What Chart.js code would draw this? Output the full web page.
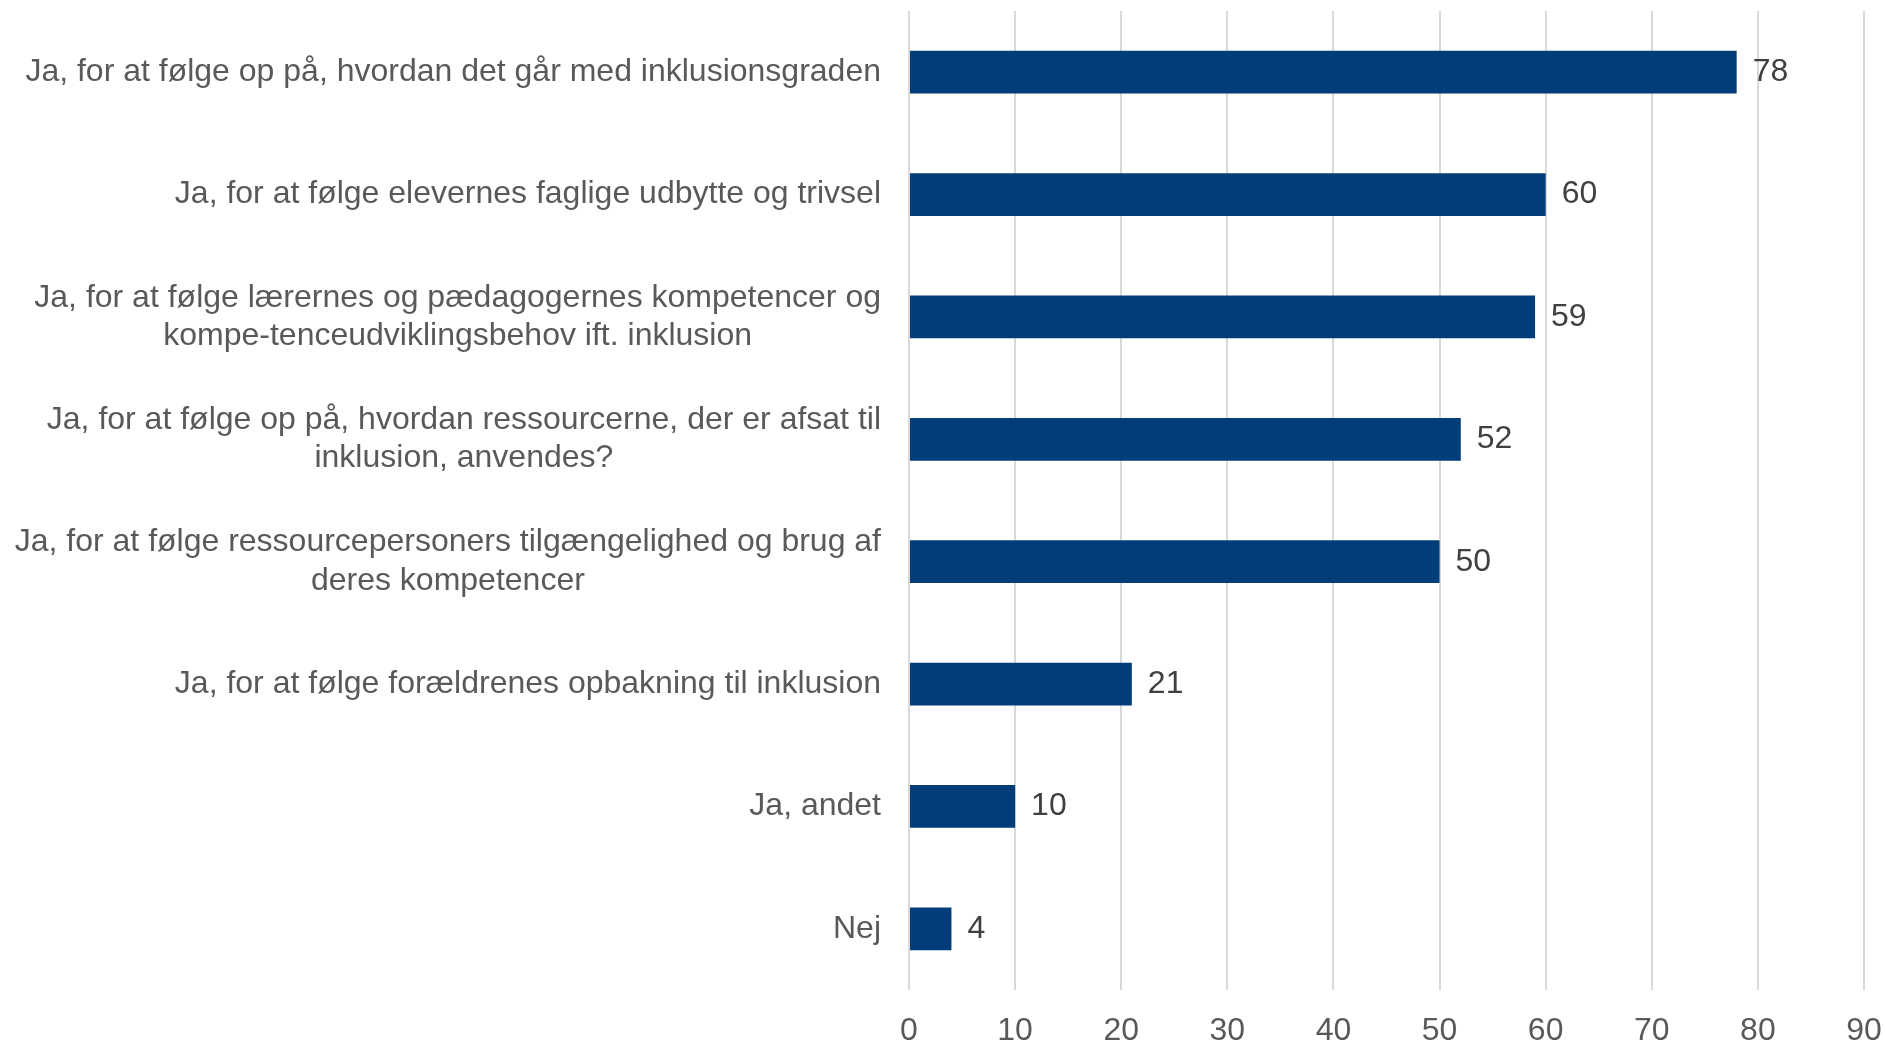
<!DOCTYPE html>
<html>
<head>
<meta charset="utf-8">
<title>Inklusion</title>
<script src="https://cdn.jsdelivr.net/npm/chart.js@4"></script>
<style>
    html, body { margin: 0; padding: 0; background: #fff; }
    #wrap { width: 1885px; height: 1043px; }
</style>
</head>
<body>
<div id="wrap"><canvas id="inclusionChart" width="1885" height="1043"></canvas></div>
<script>
// ----- DATA -----
const categories = [
    'Ja, for at følge op på, hvordan det går med inklusionsgraden',
    'Ja, for at følge elevernes faglige udbytte og trivsel',
    ['Ja, for at følge lærernes og pædagogernes kompetencer og', 'kompe-tenceudviklingsbehov ift. inklusion'],
    ['Ja, for at følge op på, hvordan ressourcerne, der er afsat til', 'inklusion, anvendes?'],
    ['Ja, for at følge ressourcepersoners tilgængelighed og brug af', 'deres kompetencer'],
    'Ja, for at følge forældrenes opbakning til inklusion',
    'Ja, andet',
    'Nej'
];
const values = [78, 60, 59, 52, 50, 21, 10, 4];
const xTicks = [0, 10, 20, 30, 40, 50, 60, 70, 80, 90];

const FONT = '"Liberation Sans", Arial, sans-serif';
const BAR_COLOR = '#003d79';

// ----- PLUGINS -----
// category labels: block right-aligned to the axis, lines centered inside the block
const categoryLabels = {
    id: 'categoryLabels',
    afterDraw(chart) {
        const ctx = chart.ctx;
        const yScale = chart.scales.y;
        const right = chart.chartArea.left - 28;
        const lineH = 38.5;
        ctx.save();
        ctx.font = '32px ' + FONT;
        ctx.fillStyle = '#595959';
        ctx.textAlign = 'center';
        ctx.textBaseline = 'middle';
        categories.forEach((label, i) => {
            const lines = Array.isArray(label) ? label : [label];
            const blockW = Math.max(...lines.map(l => ctx.measureText(l).width));
            const cx = right - blockW / 2;
            const cy = yScale.getPixelForValue(i);
            lines.forEach((l, j) => {
                ctx.fillText(l, cx, cy + (j - (lines.length - 1) / 2) * lineH);
            });
        });
        ctx.restore();
    }
};

// value labels at the end of each bar
const valueLabels = {
    id: 'valueLabels',
    afterDatasetsDraw(chart) {
        const ctx = chart.ctx;
        const meta = chart.getDatasetMeta(0);
        ctx.save();
        ctx.font = '32px ' + FONT;
        ctx.fillStyle = '#404040';
        ctx.textAlign = 'left';
        ctx.textBaseline = 'middle';
        meta.data.forEach((bar, i) => {
            ctx.fillText(values[i], bar.x + 16, bar.y);
        });
        ctx.restore();
    }
};

// ----- CHART -----
function initChart() {
    const ctx = document.getElementById('inclusionChart').getContext('2d');
    new Chart(ctx, {
        type: 'bar',
        data: {
            labels: categories,
            datasets: [{
                data: values,
                backgroundColor: BAR_COLOR,
                barPercentage: 0.35,
                categoryPercentage: 1
            }]
        },
        options: {
            indexAxis: 'y',
            responsive: false,
            animation: false,
            devicePixelRatio: 1,
            layout: { padding: { top: 11, right: 0, bottom: 0, left: 0 } },
            plugins: {
                legend: { display: false },
                tooltip: { enabled: false }
            },
            scales: {
                x: {
                    min: 0,
                    max: 90,
                    afterBuildTicks: (scale) => { scale.ticks = xTicks.map(v => ({ value: v })); },
                    afterFit: (scale) => {
                        scale.height = 53;
                        scale.paddingLeft = 0;
                        scale.paddingRight = 21;
                    },
                    grid: { color: '#d9d9d9', lineWidth: 2, drawTicks: false },
                    border: { display: false },
                    ticks: {
                        padding: 22,
                        color: '#595959',
                        font: { family: FONT, size: 32 }
                    }
                },
                y: {
                    grid: { display: false },
                    border: { display: false },
                    ticks: { display: false },
                    afterFit: (scale) => { scale.width = 909; }
                }
            }
        },
        plugins: [categoryLabels, valueLabels]
    });
}

document.addEventListener('DOMContentLoaded', initChart);
</script>
</body>
</html>
